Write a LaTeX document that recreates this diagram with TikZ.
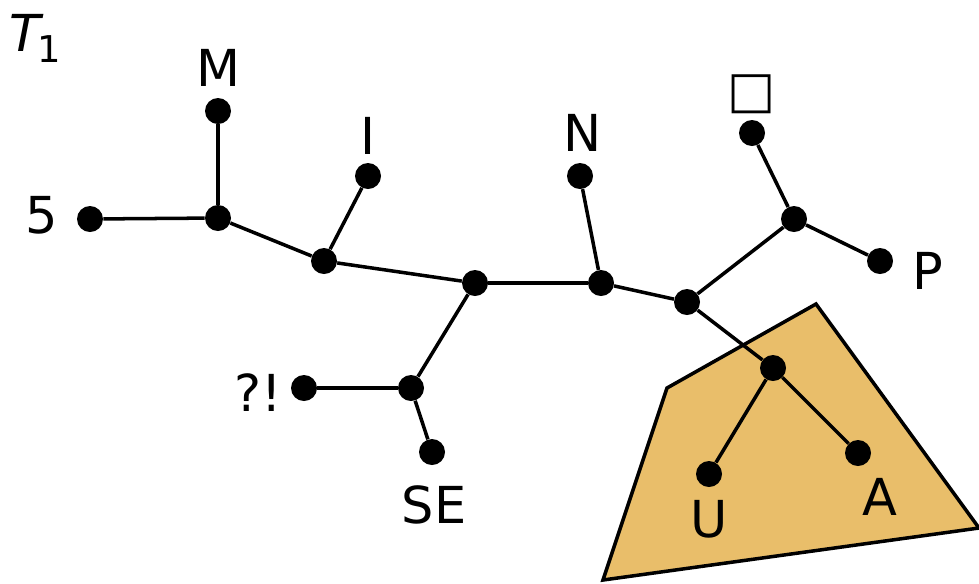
\documentclass[tikz,border=0pt]{standalone}
\usepackage{fontspec}
\setmainfont{DejaVu Sans}
\usetikzlibrary{positioning}
\definecolor{clade}{RGB}{233,190,106}

\begin{document}
\begin{tikzpicture}[x=0.02cm, y=-0.02cm,
    dot/.style={circle, fill=black, inner sep=0pt, minimum size=0.52cm},
    lbl/.style={font=\fontsize{29}{32}\selectfont},
    edge/.style={line width=2pt}]
  \useasboundingbox (0,0) rectangle (979,583);
  % highlighted subtree
  \filldraw[fill=clade, line width=2pt]
    (603,580) -- (667,388) -- (816,304) -- (979,528) -- cycle;
  % inner vertices
  \node[dot] (a) at (218,218) {};
  \node[dot] (b) at (324,261) {};
  \node[dot] (c) at (475,283) {};
  \node[dot] (d) at (601,283) {};
  \node[dot] (e) at (687,302) {};
  \node[dot] (f) at (794,219) {};
  \node[dot] (g) at (773,368) {};
  \node[dot] (h) at (411,388) {};
  % leaves
  \node[dot] (five) at (90,219) {};
  \node[dot] (m) at (218,111) {};
  \node[dot] (i) at (368,176) {};
  \node[dot] (n) at (580,176) {};
  \node[dot] (sq) at (752,133) {};
  \node[dot] (p) at (880,261) {};
  \node[dot] (u) at (709,474) {};
  \node[dot] (aa) at (858,453) {};
  \node[dot] (qe) at (304,388) {};
  \node[dot] (se) at (432,452) {};
  % edges
  \draw[edge] (a) -- (five);
  \draw[edge] (a) -- (m);
  \draw[edge] (a) -- (b);
  \draw[edge] (b) -- (i);
  \draw[edge] (b) -- (c);
  \draw[edge] (c) -- (d);
  \draw[edge] (c) -- (h);
  \draw[edge] (h) -- (qe);
  \draw[edge] (h) -- (se);
  \draw[edge] (d) -- (n);
  \draw[edge] (d) -- (e);
  \draw[edge] (e) -- (f);
  \draw[edge] (f) -- (sq);
  \draw[edge] (f) -- (p);
  \draw[edge] (e) -- (g);
  \draw[edge] (g) -- (u);
  \draw[edge] (g) -- (aa);
  % labels
  \node[lbl] (l5) at (42,215) {5};
  \node[lbl] (lm) at (218,68) {M};
  \node[lbl] (li) at (368,136) {I};
  \node[lbl] (ln) at (583,133) {N};
  \node[lbl] (lsq) at (752,94) {□};
  \node[lbl] (lp) at (928,271) {P};
  \node[lbl] (lu) at (709,519) {U};
  \node[lbl] (la) at (880,497) {A};
  \node[lbl] (lqe) at (258,393) {?!};
  \node[lbl] (lse) at (434,505) {SE};
  \node[lbl] (t1) at (35,38) {\textit{T}\kern-0.12em\raisebox{-0.4ex}{\fontsize{21}{22}\selectfont 1}};
\end{tikzpicture}
\end{document}
